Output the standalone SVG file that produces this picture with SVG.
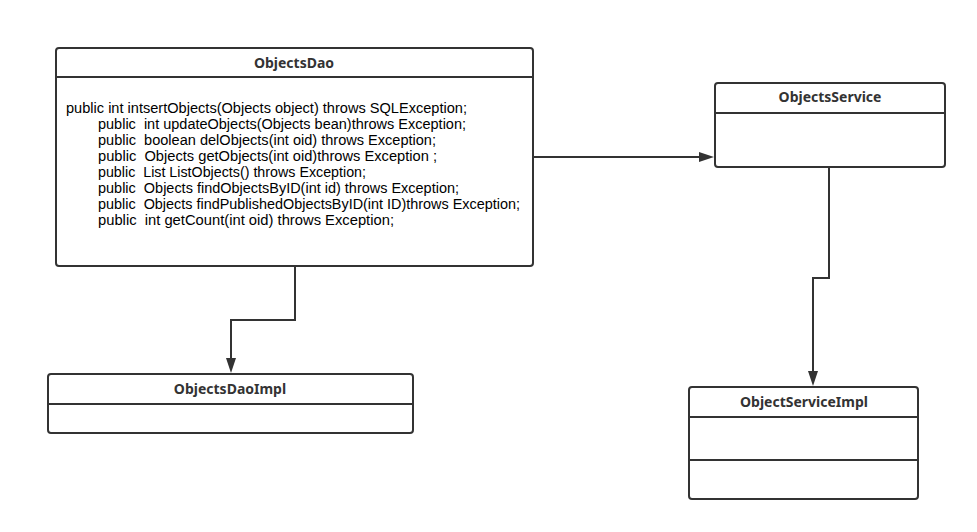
<svg xmlns="http://www.w3.org/2000/svg" width="977" height="532" viewBox="0 0 977 532">
<defs>
<style>
.box{fill:#fff;stroke:#333;stroke-width:2}
.sep{stroke:#333;stroke-width:2;fill:none}
.title{font-family:"Noto Sans","Liberation Sans",sans-serif;font-size:14px;font-weight:bold;fill:#333;text-anchor:middle}
.body{font-family:"Liberation Sans","Noto Sans",sans-serif;font-size:14px;fill:#000;white-space:pre}
.conn{stroke:#333;stroke-width:2;fill:none}
.head{fill:#333}
</style>
</defs>
<rect width="977" height="532" fill="#fff"/>
<g id="connectors">
<path class="conn" d="M533,157 H702"/>
<path class="head" d="M699,152 L714,157 L699,162 Z"/>
<path class="conn" d="M295,266 V320 H231 V360"/>
<path class="head" d="M226,358 L231,373 L236,358 Z"/>
<path class="conn" d="M829,167 V278 H813 V372"/>
<path class="head" d="M808,371 L813,386 L818,371 Z"/>
</g>
<g id="ObjectsDao">
<rect class="box" x="56" y="48" width="477" height="218" rx="3"/>
<line class="sep" x1="56" y1="77" x2="533" y2="77"/>
<text class="title" x="294" y="68">ObjectsDao</text>
<text class="body" x="66" y="113" textLength="401" lengthAdjust="spacingAndGlyphs">public int intsertObjects(Objects object) throws SQLException;</text>
<text class="body" x="98" y="129" textLength="368" lengthAdjust="spacingAndGlyphs">public  int updateObjects(Objects bean)throws Exception;</text>
<text class="body" x="98" y="145" textLength="338" lengthAdjust="spacingAndGlyphs">public  boolean delObjects(int oid) throws Exception;</text>
<text class="body" x="98" y="161" textLength="339" lengthAdjust="spacingAndGlyphs">public  Objects getObjects(int oid)throws Exception ;</text>
<text class="body" x="98" y="177" textLength="268" lengthAdjust="spacingAndGlyphs">public  List ListObjects() throws Exception;</text>
<text class="body" x="98" y="193" textLength="361" lengthAdjust="spacingAndGlyphs">public  Objects findObjectsByID(int id) throws Exception;</text>
<text class="body" x="98" y="209" textLength="422" lengthAdjust="spacingAndGlyphs">public  Objects findPublishedObjectsByID(int ID)throws Exception;</text>
<text class="body" x="98" y="225" textLength="296" lengthAdjust="spacingAndGlyphs">public  int getCount(int oid) throws Exception;</text>
</g>
<g id="ObjectsService">
<rect class="box" x="715" y="83" width="230" height="84" rx="3"/>
<line class="sep" x1="715" y1="113" x2="945" y2="113"/>
<text class="title" x="830" y="102">ObjectsService</text>
</g>
<g id="ObjectsDaoImpl">
<rect class="box" x="48" y="374" width="365" height="59" rx="3"/>
<line class="sep" x1="48" y1="404" x2="413" y2="404"/>
<text class="title" x="230" y="394">ObjectsDaoImpl</text>
</g>
<g id="ObjectServiceImpl">
<rect class="box" x="689" y="387" width="229" height="112" rx="3"/>
<line class="sep" x1="689" y1="417" x2="918" y2="417"/>
<line class="sep" x1="689" y1="460" x2="918" y2="460"/>
<text class="title" x="804" y="407">ObjectServiceImpl</text>
</g>
</svg>
